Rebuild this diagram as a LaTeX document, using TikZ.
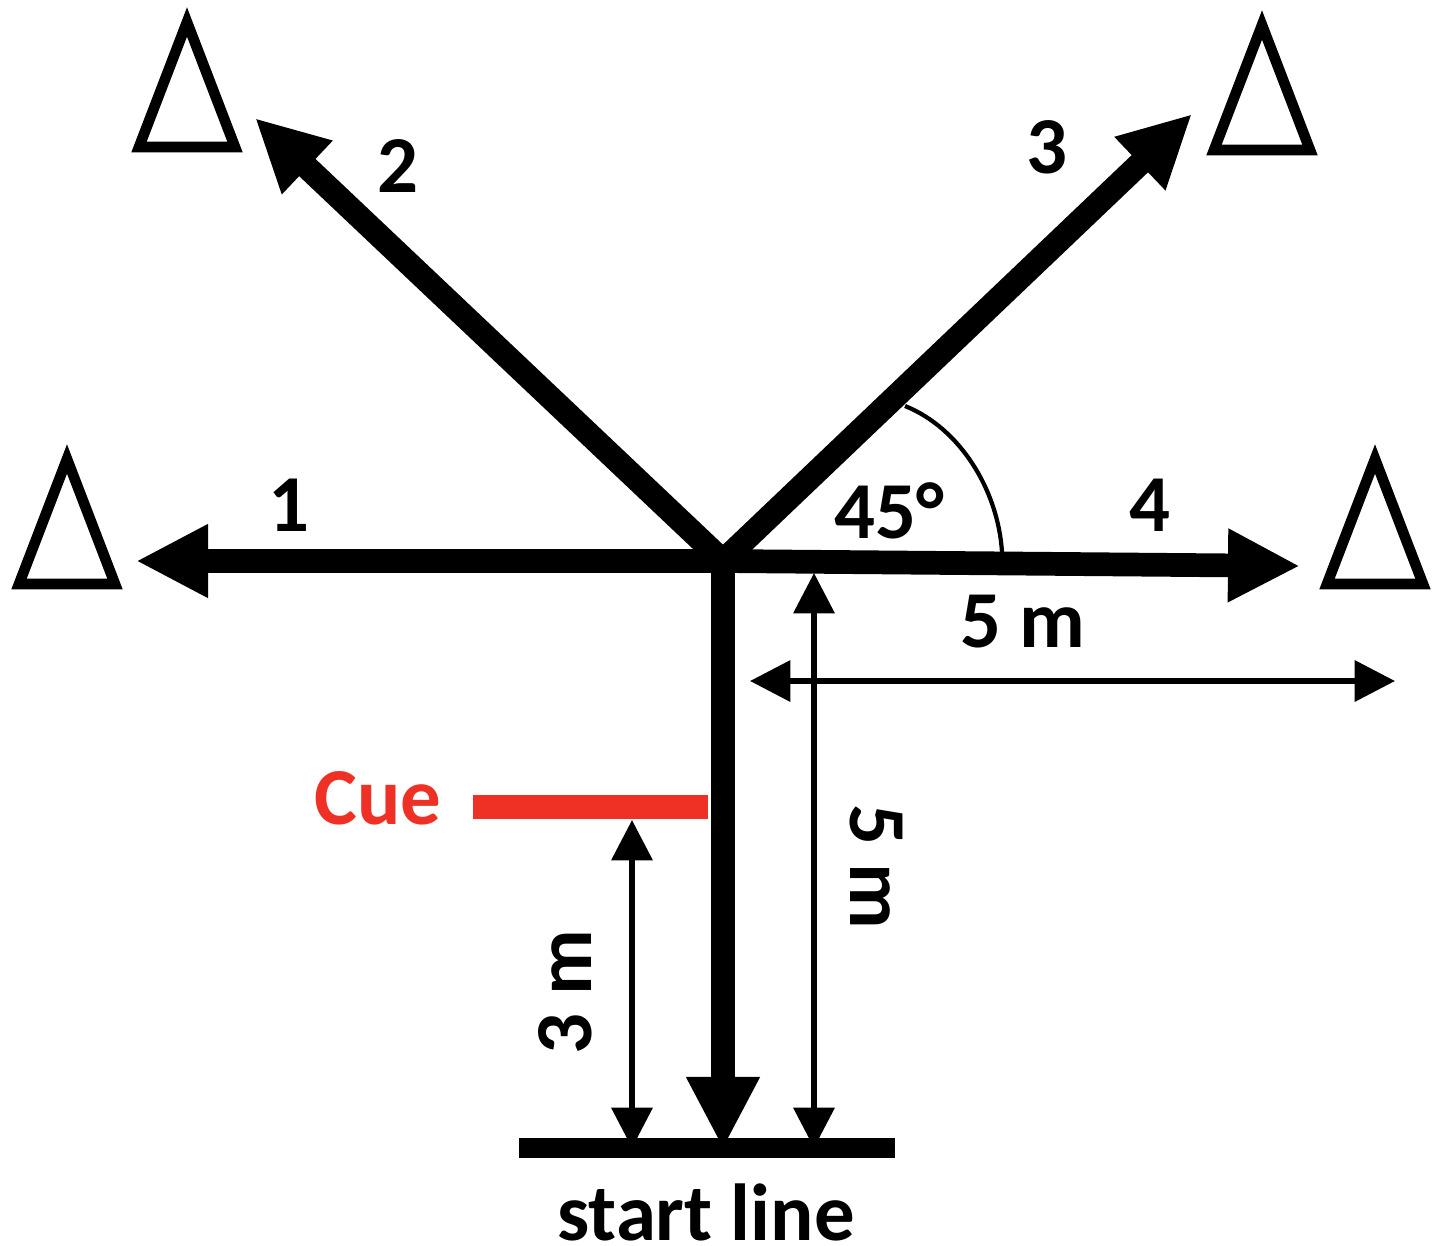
\documentclass[tikz,border=0pt]{standalone}
\usepackage{fontspec}
\setmainfont{Carlito}
\usetikzlibrary{arrows.meta}
\definecolor{cuered}{HTML}{EE3124}
\tikzset{
  lbl/.style={font=\fontsize{46}{50}\selectfont\bfseries,inner sep=0pt},
  run/.style={line width=13.5pt,-{Triangle[length=41pt,width=39pt]}},
  dim/.style={line width=3.2pt,{Triangle[length=23pt,width=23pt]}-{Triangle[length=23pt,width=23pt]}},
  cone/.style={line width=6pt,miter limit=10}
}
\begin{document}
\begin{tikzpicture}[x=0.02cm,y=-0.02cm]
      \useasboundingbox (0,0) rectangle (1437,1245);

      % Titik pusat dan ujung panah
      \coordinate (O) at (723,561);
      \coordinate (T1) at (136,561);
      \coordinate (T2) at (255,118);
      \coordinate (T3) at (1192,114);
      \coordinate (T4) at (1300,566);
      \coordinate (T5) at (723,1149);

      % Garis start dan cue
      \coordinate (SL) at (519,1148);
      \coordinate (SR) at (895,1148);
      \coordinate (CL) at (473,807);
      \coordinate (CR) at (708,807);

      % Ujung panah ukuran
      \coordinate (HL) at (750,681);
      \coordinate (HR) at (1395,681);
      \coordinate (VT) at (814,573);
      \coordinate (VB) at (814,1148);
      \coordinate (DT) at (632,820);
      \coordinate (DB) at (632,1148);

      % Ujung busur sudut
      \coordinate (AS) at (1002,552);
      \coordinate (AE) at (905,406);

      % Kerucut
      \foreach \x/\y in {187/22,1262/25,67/459,1375/459}{
          \draw[cone] (\x,\y) -- (\x+48,\y+125) -- (\x-48,\y+125) -- cycle;
        }

      % Panah lari
      \draw[run] (O) -- (T1);
      \draw[run] (O) -- (T2);
      \draw[run] (O) -- (T3);
      \draw[run] (O) -- (T4);
      \draw[run] (O) -- (T5);

      % Garis start dan cue
      \draw[line width=11.2pt] (SL) -- (SR);
      \draw[line width=13.6pt,cuered] (CL) -- (CR);

      % Panah ukuran
      \draw[dim] (HL) -- (HR);
      \draw[dim] (VT) -- (VB);
      \draw[dim] (DT) -- (DB);

      % Busur sudut
      \draw[line width=2.4pt] (AE) .. controls (960,428) and (998,490) .. (AS);

      % Label
      \node[lbl] (n1) at (289,505) {1};
      \node[lbl] (n2) at (398,166) {2};
      \node[lbl] (n3) at (1047,147) {3};
      \node[lbl] (n4) at (1150,505) {4};
      \node[lbl] (ang) at (889,511) {45°};
      \node[lbl] (hdist) at (1023,622) {5 m};
      \node[lbl,rotate=-90] (vdist) at (876,867) {5 m};
      \node[lbl,rotate=90] (cdist) at (565,992) {3 m};
      \node[lbl,cuered] (cue) at (378,798) {Cue};
      \node[lbl] (start) at (706,1212) {start line};
    \end{tikzpicture}
\end{document}
